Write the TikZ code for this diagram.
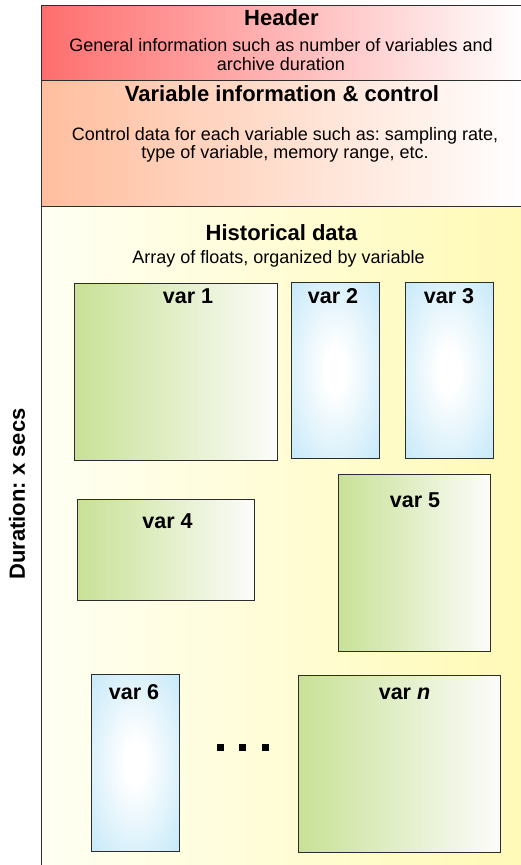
\documentclass[tikz,border=0pt]{standalone}
\usepackage{fontspec}
\setmainfont{Liberation Sans}
\frenchspacing
\definecolor{hdrL}{RGB}{255,110,110}
\definecolor{varL}{RGB}{255,190,158}
\definecolor{histL}{RGB}{255,255,243}
\definecolor{histR}{RGB}{255,250,182}
\definecolor{grnL}{RGB}{200,225,150}
\definecolor{grnR}{RGB}{252,252,250}
\definecolor{bluO}{RGB}{178,225,246}
\definecolor{edge}{RGB}{45,45,45}
\pgfdeclareradialshading{bluerad}{\pgfpointorigin}{color(0bp)=(white); color(6bp)=(white); color(46bp)=(bluO); color(50bp)=(bluO)}
\tikzset{
  band/.style={draw=edge, line width=1pt, anchor=north west, inner sep=0pt, outer sep=0pt},
  greenbox/.style={draw=edge, line width=1pt, left color=grnL, right color=grnR, anchor=north west, inner sep=0pt, outer sep=0pt},
  bluebox/.style={draw=edge, line width=1pt, shading=bluerad, anchor=north west, inner sep=0pt, outer sep=0pt},
  ttl/.style={font=\fontsize{22}{26}\selectfont\bfseries, anchor=base, inner sep=0pt},
  body/.style={font=\fontsize{18}{21}\selectfont, anchor=base, inner sep=0pt},
  lab/.style={font=\fontsize{21.5}{25}\selectfont\bfseries, anchor=base, inner sep=0pt},
  dotsq/.style={fill=black, minimum size=7pt, inner sep=0pt, draw=none}
}
\begin{document}
\begin{tikzpicture}[x=1pt,y=-1pt]
\useasboundingbox (0,0) rectangle (520,865);
% historical area
\node[anchor=north west, inner sep=0pt, outer sep=0pt, left color=histL, right color=histR, minimum width=485pt, minimum height=665pt] (hist) at (41,206) {};
\coordinate (lineTop) at (41,206);
\coordinate (lineBot) at (41,870);
\draw[edge, line width=1pt] (lineTop) -- (lineBot);
% header bands
\node[band, left color=hdrL, right color=white, minimum width=485pt, minimum height=75pt] (hdr) at (41,5) {};
\node[band, left color=varL, right color=white, minimum width=485pt, minimum height=126pt] (vinfo) at (41,80) {};
% texts
\node[ttl] (thdr) at (281.5,25) {Header};
\node[body] (b1) at (281,51) {General information such as number of variables and};
\node[body] (b2) at (281,70) {archive duration};
\node[ttl] (tvar) at (282,101) {Variable information \& control};
\node[body] (b3) at (285,140) {Control data for each variable such as: sampling rate,};
\node[body] (b4) at (285,158) {type of variable, memory range, etc.};
\node[ttl] (thist) at (281.5,240) {Historical data};
\node[body] (b5) at (278.5,263) {Array of floats, organized by variable};
\node[font=\fontsize{22}{26}\selectfont\bfseries, rotate=90, inner sep=0pt] (dur) at (17,494) {Duration: x secs};
% variable boxes
\node[greenbox, minimum width=203pt, minimum height=177pt] (v1) at (74,283) {};
\node[bluebox, minimum width=88pt, minimum height=176pt] (v2) at (291,282) {};
\node[bluebox, minimum width=88pt, minimum height=176pt] (v3) at (405,282) {};
\node[greenbox, minimum width=177pt, minimum height=101pt] (v4) at (77,499) {};
\node[greenbox, minimum width=152pt, minimum height=177pt] (v5) at (338,474) {};
\node[bluebox, minimum width=88pt, minimum height=177pt] (v6) at (91,674) {};
\node[greenbox, minimum width=202pt, minimum height=177pt] (vn) at (298,675) {};
% labels
\node[lab] (l1) at (188,303) {var 1};
\node[lab] (l2) at (333,303) {var 2};
\node[lab] (l3) at (449,303) {var 3};
\node[lab] (l4) at (167.5,528) {var 4};
\node[lab] (l5) at (415,507) {var 5};
\node[lab] (l6) at (134,699) {var 6};
\node[lab] (ln) at (404.5,699) {var \textit{n}};
% dots
\node[dotsq] (d1) at (220,747.5) {};
\node[dotsq] (d2) at (242.5,747.5) {};
\node[dotsq] (d3) at (265.5,747.5) {};
\end{tikzpicture}
\end{document}
